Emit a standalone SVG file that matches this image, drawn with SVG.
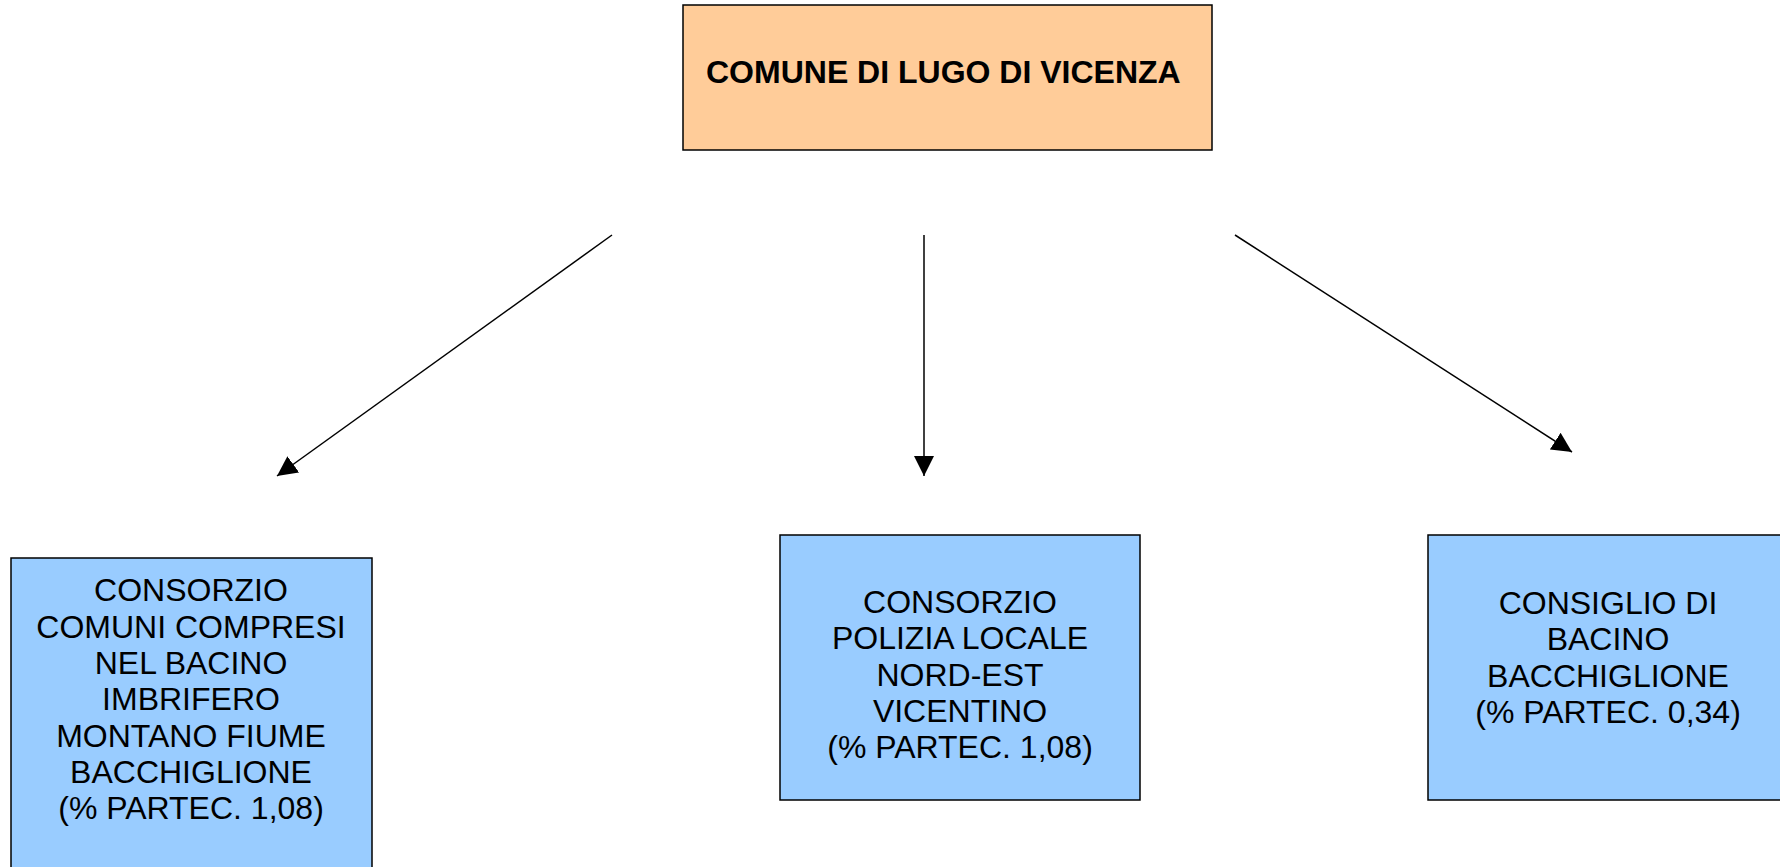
<svg xmlns="http://www.w3.org/2000/svg" width="1780" height="867" viewBox="0 0 1780 867">
<style>
.box{stroke:#000;stroke-width:1.5}
.top{fill:#FFCC99}
.blue{fill:#99CCFF}
.t{font-family:"Liberation Sans",Arial,sans-serif;font-size:32px;fill:#000;text-anchor:middle}
.b{font-family:"Liberation Sans",Arial,sans-serif;font-size:32px;font-weight:bold;fill:#000}
.c{stroke:#000;stroke-width:1.5;fill:none;marker-end:url(#ah)}
</style>
<defs>
<marker id="ah" markerUnits="userSpaceOnUse" markerWidth="22" markerHeight="20" refX="20" refY="10" orient="auto">
<path d="M0,0 L20,10 L0,20 Z" fill="#000"/>
</marker>
</defs>
<rect width="1780" height="867" fill="#fff"/>
<g id="comune">
<rect class="box top" x="683" y="5" width="529" height="145"/>
<text class="b" x="706" y="83">COMUNE DI LUGO DI VICENZA</text>
</g>
<g id="consorzio-bacino">
<rect class="box blue" x="11" y="558" width="361" height="330"/>
<text class="t" x="191" y="601">CONSORZIO</text>
<text class="t" x="191" y="638">COMUNI COMPRESI</text>
<text class="t" x="191" y="674">NEL BACINO</text>
<text class="t" x="191" y="710">IMBRIFERO</text>
<text class="t" x="191" y="747">MONTANO FIUME</text>
<text class="t" x="191" y="783">BACCHIGLIONE</text>
<text class="t" x="191" y="819">(% PARTEC. 1,08)</text>
</g>
<g id="consorzio-polizia">
<rect class="box blue" x="780" y="535" width="360" height="265"/>
<text class="t" x="960" y="613">CONSORZIO</text>
<text class="t" x="960" y="649">POLIZIA LOCALE</text>
<text class="t" x="960" y="686">NORD-EST</text>
<text class="t" x="960" y="722">VICENTINO</text>
<text class="t" x="960" y="758">(% PARTEC. 1,08)</text>
</g>
<g id="consiglio-bacino">
<rect class="box blue" x="1428" y="535" width="360" height="265"/>
<text class="t" x="1608" y="614">CONSIGLIO DI</text>
<text class="t" x="1608" y="650">BACINO</text>
<text class="t" x="1608" y="687">BACCHIGLIONE</text>
<text class="t" x="1608" y="723">(% PARTEC. 0,34)</text>
</g>
<g id="connectors">
<line class="c" x1="612" y1="235" x2="277" y2="476"/>
<line class="c" x1="924" y1="235" x2="924" y2="476"/>
<line class="c" x1="1235" y1="235" x2="1572" y2="452"/>
</g>
</svg>
